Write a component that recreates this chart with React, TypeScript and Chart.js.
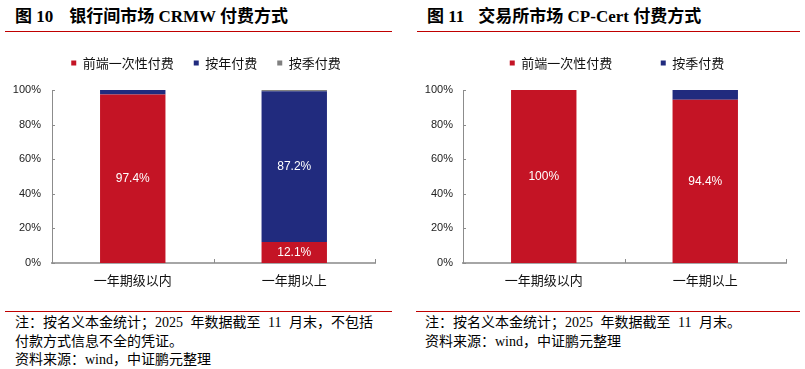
import React, { useEffect, useRef } from "react";
import { Chart, registerables } from "chart.js";

Chart.register(...registerables);

// ---------- data ----------
const categories = ["一年期级以内", "一年期以上"];

const leftSeriesNames = ["前端一次性付费", "按年付费", "按季付费"];
const leftUpfront = [97.4, 12.1];
const leftAnnual = [2.6, 87.2];
const leftQuarterly = [0, 0.7];

const rightSeriesNames = ["前端一次性付费", "按季付费"];
const rightUpfront = [100, 94.4];
const rightQuarterly = [0, 5.6];

const yTickValues = [0, 20, 40, 60, 80, 100];

const leftTitleNo = "图 10";
const leftTitle = "银行间市场 CRMW 付费方式";
const rightTitleNo = "图 11";
const rightTitle = "交易所市场 CP-Cert 付费方式";

const leftNotes = [
  "注：按名义本金统计；2025 年数据截至 11 月末，不包括",
  "付款方式信息不全的凭证。",
  "资料来源：wind，中证鹏元整理",
];
const rightNotes = [
  "注：按名义本金统计；2025 年数据截至 11 月末。",
  "资料来源：wind，中证鹏元整理",
];

// ---------- styles ----------
const RED = "#C41425";
const BLUE = "#212B7E";
const GREY = "#808080";
const RULE = "#C00000";
const CJK = '"Noto Sans CJK SC", "Noto Sans", sans-serif';
const SERIF = '"Liberation Serif", "Noto Sans CJK SC", serif';

function fmt(v: number) {
  return v === 100 ? "100%" : v.toFixed(1) + "%";
}

const barLabelPlugin = {
  id: "barLabels",
  afterDatasetsDraw(chart: any) {
    const ctx = chart.ctx;
    ctx.save();
    ctx.fillStyle = "#FFFFFF";
    ctx.font = '12px "Liberation Sans", Arial, sans-serif';
    ctx.textAlign = "center";
    ctx.textBaseline = "middle";
    chart.data.datasets.forEach((ds: any, di: number) => {
      const meta = chart.getDatasetMeta(di);
      meta.data.forEach((el: any, i: number) => {
        const v = ds.data[i];
        if (v < 10) return;
        const p = el.getProps(["x", "y", "base"], true);
        ctx.fillText(fmt(v), p.x, (p.y + p.base) / 2);
      });
    });
    ctx.restore();
  },
};

const innerTickPlugin = {
  id: "innerTicks",
  afterDraw(chart: any) {
    const ctx = chart.ctx;
    const area = chart.chartArea;
    const y = chart.scales.y;
    const n = chart.data.labels.length;
    ctx.save();
    ctx.strokeStyle = "#8C8C8C";
    ctx.lineWidth = 1;
    ctx.beginPath();
    y.ticks.forEach((t: any) => {
      const py = Math.round(y.getPixelForValue(t.value)) + 0.5;
      ctx.moveTo(area.left, py);
      ctx.lineTo(area.left + 3, py);
    });
    for (let i = 0; i <= n; i++) {
      const px = Math.round(area.left + (i * (area.right - area.left)) / n) + 0.5;
      ctx.moveTo(px, area.bottom);
      ctx.lineTo(px, area.bottom - 4);
    }
    ctx.stroke();
    ctx.restore();
  },
};

// forces the legend box height and shifts its drawing so that it is centred on a given x
function makeLegendPlugin(h: number, centerX: number) {
  return {
    id: "legendTweak",
    beforeLayout(chart: any) {
      const lg = chart.legend;
      if (lg && !lg.__wrapped) {
        const origFit = lg.fit;
        lg.fit = function () {
          origFit.call(this);
          this.height = h;
        };
        const origDraw = lg.draw;
        lg.draw = function (...args: any[]) {
          const dx = centerX - (this.left + this.right) / 2;
          this.ctx.save();
          this.ctx.translate(dx, 0);
          origDraw.apply(this, args);
          this.ctx.restore();
        };
        lg.__wrapped = true;
      }
    },
  };
}

type PanelChartProps = {
  names: string[];
  series: number[][];
  colors: string[];
  padLeft: number;
  padRight: number;
  padTop: number;
  legendPad: number;
  legendHeight: number;
  legendCenter: number;
  yWidth: number;
  xHeight: number;
  yPad: number;
};

function PanelChart(props: PanelChartProps) {
  const ref = useRef<HTMLCanvasElement | null>(null);
  useEffect(() => {
    if (!ref.current) return;
    const chart = new Chart(ref.current, {
      type: "bar",
      data: {
        labels: categories,
        datasets: props.series.map((d, i) => ({
          label: props.names[i],
          data: d,
          backgroundColor: props.colors[i],
          borderWidth: 0,
          barPercentage: 0.405,
          categoryPercentage: 1,
        })),
      },
      options: {
        animation: false,
        responsive: false,
        maintainAspectRatio: false,
        layout: {
          padding: { left: props.padLeft, right: props.padRight, top: props.padTop, bottom: 0 },
        },
        plugins: {
          legend: {
            display: true,
            position: "top",
            labels: {
              boxWidth: 5,
              boxHeight: 5,
              padding: props.legendPad,
              color: "#111111",
              font: { family: CJK, size: 13 },
            },
          },
          tooltip: { enabled: false },
        },
        scales: {
          x: {
            stacked: true,
            grid: { display: false, drawTicks: false },
            border: { display: true, color: "#A6A6A6", width: 2 },
            ticks: { color: "#111111", font: { family: CJK, size: 13 }, padding: 9 },
            afterFit: (s: any) => {
              s.height = props.xHeight;
            },
          },
          y: {
            stacked: true,
            min: 0,
            max: 100,
            afterBuildTicks: (s: any) => {
              s.ticks = yTickValues.map((v) => ({ value: v }));
            },
            grid: { display: false, drawTicks: false },
            border: { display: true, color: "#8C8C8C", width: 1 },
            ticks: {
              color: "#222222",
              font: { family: '"Liberation Sans", Arial, sans-serif', size: 11 },
              padding: props.yPad,
              callback: (v: any) => v + "%",
            },
            afterFit: (s: any) => {
              s.width = props.yWidth;
            },
          },
        },
      },
      plugins: [
        barLabelPlugin,
        innerTickPlugin,
        makeLegendPlugin(props.legendHeight, props.legendCenter),
      ],
    } as any);
    return () => chart.destroy();
  }, []);
  return (
    <canvas
      ref={ref}
      width={400}
      height={302}
      style={{ position: "absolute", left: 0, top: 0, width: 400, height: 302 }}
    />
  );
}

function Title(props: { no: string; text: string; left: number; gap: number }) {
  return (
    <div
      style={{
        position: "absolute",
        left: props.left,
        top: 6,
        fontFamily: SERIF,
        fontWeight: "bold",
        fontSize: 17,
        lineHeight: "22px",
        color: "#000",
        whiteSpace: "nowrap",
      }}
    >
      <span>{props.no}</span>
      <span style={{ marginLeft: props.gap }}>{props.text}</span>
    </div>
  );
}

function Notes(props: { lines: string[]; left: number }) {
  return (
    <div
      style={{
        position: "absolute",
        left: props.left,
        top: 314,
        fontFamily: SERIF,
        fontSize: 14,
        lineHeight: "18.5px",
        wordSpacing: 4,
        color: "#000",
        whiteSpace: "nowrap",
      }}
    >
      {props.lines.map((l, i) => (
        <div key={i}>{l}</div>
      ))}
    </div>
  );
}

function Rule(props: { left: number; width: number; top: number }) {
  return (
    <div
      style={{
        position: "absolute",
        left: props.left,
        top: props.top,
        width: props.width,
        height: 1,
        background: RULE,
      }}
    />
  );
}

export default function App() {
  return (
    <div
      style={{
        position: "absolute",
        left: 0,
        top: 0,
        width: 805,
        height: 369,
        background: "#fff",
        overflow: "hidden",
      }}
    >
      {/* left panel */}
      <div style={{ position: "absolute", left: 0, top: 0, width: 400, height: 369 }}>
        <Title no={leftTitleNo} text={leftTitle} left={15} gap={16} />
        <Rule left={5} width={387} top={31} />
        <PanelChart
          names={leftSeriesNames}
          series={[leftUpfront, leftAnnual, leftQuarterly]}
          colors={[RED, BLUE, GREY]}
          padLeft={6}
          padRight={25}
          padTop={36.5}
          legendPad={20}
          legendHeight={53.5}
          legendCenter={206}
          yWidth={46}
          xHeight={39}
          yPad={11}
        />
        <Rule left={5} width={387} top={311} />
        <Notes lines={leftNotes} left={15} />
      </div>
      {/* right panel */}
      <div style={{ position: "absolute", left: 405, top: 0, width: 400, height: 369 }}>
        <Title no={rightTitleNo} text={rightTitle} left={22} gap={14} />
        <Rule left={12} width={383} top={31} />
        <PanelChart
          names={rightSeriesNames}
          series={[rightUpfront, rightQuarterly]}
          colors={[RED, BLUE]}
          padLeft={6}
          padRight={19}
          padTop={8}
          legendPad={48.5}
          legendHeight={82}
          legendCenter={212}
          yWidth={52}
          xHeight={39}
          yPad={10}
        />
        <Rule left={11} width={384} top={311} />
        <Notes lines={rightNotes} left={20} />
      </div>
    </div>
  );
}
